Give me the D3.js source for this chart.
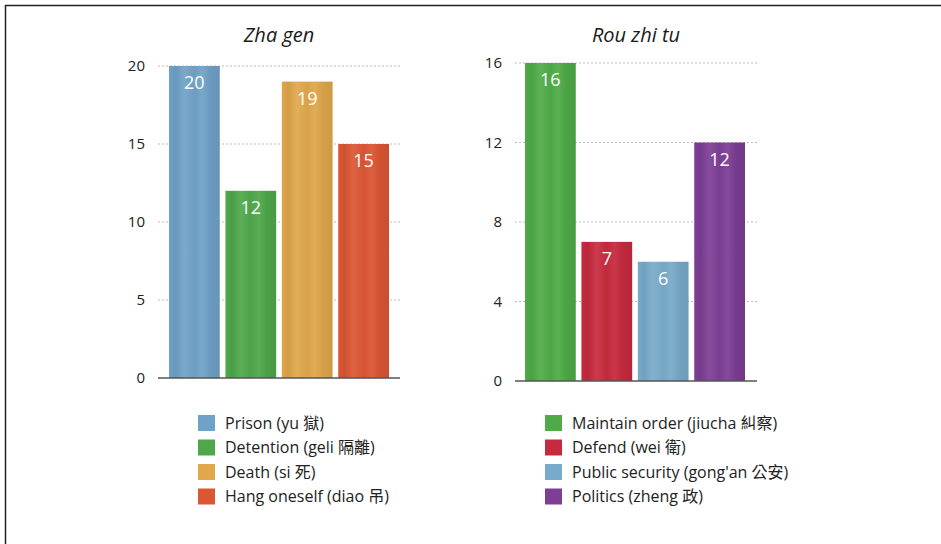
<!DOCTYPE html>
<html><head><meta charset="utf-8">
<script src="https://cdn.jsdelivr.net/npm/d3@7"></script>
<style>
body{margin:0;background:#fff;}
svg{display:block;font-family:"Open Sans","Noto Sans","Noto Sans CJK TC",sans-serif;}
</style></head>
<body>
<svg id="c" width="941" height="544"></svg>
<script>
const leftTitle = "Zha gen";
const leftCategories = ["Prison (yu 獄)", "Detention (geli 隔離)", "Death (si 死)", "Hang oneself (diao 吊)"];
const leftValues = [20, 12, 19, 15];
const leftColors = ["#6fa2c8", "#4ea84b", "#e0a74c", "#dc5634"];
const leftTicks = [0, 5, 10, 15, 20];

const rightTitle = "Rou zhi tu";
const rightCategories = ["Maintain order (jiucha 糾察)", "Defend (wei 衛)", "Public security (gong'an 公安)", "Politics (zheng 政)"];
const rightValues = [16, 7, 6, 12];
const rightColors = ["#4fab47", "#c72a3e", "#78abcb", "#7d3e95"];
const rightTicks = [0, 4, 8, 12, 16];

const svg = d3.select("#c");
const defs = svg.append("defs");

// frame (top & left lines)
svg.append("line").attr("x1",5).attr("x2",941).attr("y1",5.5).attr("y2",5.5).attr("stroke","#222").attr("stroke-width",1.5);
svg.append("line").attr("x1",5.5).attr("x2",5.5).attr("y1",5).attr("y2",544).attr("stroke","#222").attr("stroke-width",1.5);

function gradFor(id, color){
  const c = d3.color(color);
  const g = defs.append("linearGradient").attr("id",id).attr("x1","0%").attr("x2","100%").attr("y1","0%").attr("y2","0%");
  const stops = [[0,0.0],[0.12,-0.06],[0.3,0.08],[0.5,-0.03],[0.65,0.06],[0.82,-0.05],[1,-0.08]];
  stops.forEach(([o,k])=>{
    g.append("stop").attr("offset",o).attr("stop-color", k>0 ? d3.interpolateRgb(c, "#fff")(k) : d3.interpolateRgb(c, "#000")(-k));
  });
  return "url(#"+id+")";
}

function panel(opts){
  const {x0,x1,y0,y1,max,ticks,cats,vals,colors,title,titleX,legendX,legendY,prefix,bx0,bx1} = opts;
  const g = svg.append("g");
  const x = d3.scaleBand().domain(cats).range([bx0, bx1]).paddingInner(0.1).paddingOuter(0);
  const y = d3.scaleLinear().domain([0,max]).range([y0,y1]);

  // grid
  g.append("g").selectAll("line").data(ticks.filter(t=>t>0)).join("line")
    .attr("x1",x0).attr("x2",x1).attr("y1",d=>y(d)).attr("y2",d=>y(d))
    .attr("stroke","#bbb").attr("stroke-width",1).attr("stroke-dasharray","2,2");

  // axis labels
  const ax = g.append("g").attr("transform",`translate(${x0},0)`)
    .call(d3.axisLeft(y).tickValues(ticks).tickSize(0).tickPadding(13));
  ax.select(".domain").remove();
  ax.attr("font-size",15).attr("font-family","'Open Sans',sans-serif");
  ax.selectAll("text").attr("fill","#222");

  // bars
  g.append("g").selectAll("rect").data(vals).join("rect")
    .attr("x",(d,i)=>x(cats[i])).attr("width",x.bandwidth())
    .attr("y",d=>y(d)).attr("height",d=>y(0)-y(d))
    .attr("fill",(d,i)=>gradFor(prefix+i, colors[i]));

  // value labels
  g.append("g").selectAll("text").data(vals).join("text")
    .attr("x",(d,i)=>x(cats[i])+x.bandwidth()/2).attr("y",d=>y(d)+23)
    .attr("text-anchor","middle").attr("fill","#fff").attr("font-size",18)
    .text(d=>d);

  // baseline
  g.append("line").attr("x1",x0).attr("x2",x1).attr("y1",y(0)).attr("y2",y(0))
    .attr("stroke","#555").attr("stroke-width",1.5);

  // title
  g.append("text").attr("x",titleX).attr("y",42).attr("text-anchor","middle")
    .attr("font-size",20).attr("font-style","italic").attr("fill","#1a1a1a").text(title);

  // legend
  const lg = g.append("g").selectAll("g").data(cats).join("g")
    .attr("transform",(d,i)=>`translate(${legendX},${legendY + i*24.5})`);
  lg.append("rect").attr("x",0).attr("y",-8).attr("width",17).attr("height",16)
    .attr("fill",(d,i)=>colors[i]);
  lg.append("text").attr("x",27).attr("y",5.5).attr("font-size",16).attr("fill","#222")
    .attr("font-family","'Open Sans','Noto Sans CJK TC',sans-serif").text(d=>d);
}

panel({x0:158,x1:400,bx0:169,bx1:389,y0:378,y1:66,max:20,ticks:leftTicks,cats:leftCategories,vals:leftValues,colors:leftColors,title:leftTitle,titleX:279,legendX:198,legendY:423,prefix:"lg"});
panel({x0:515,x1:757,bx0:525,bx1:745,y0:381,y1:63,max:16,ticks:rightTicks,cats:rightCategories,vals:rightValues,colors:rightColors,title:rightTitle,titleX:636,legendX:545,legendY:423,prefix:"rg"});
</script>
</body></html>
